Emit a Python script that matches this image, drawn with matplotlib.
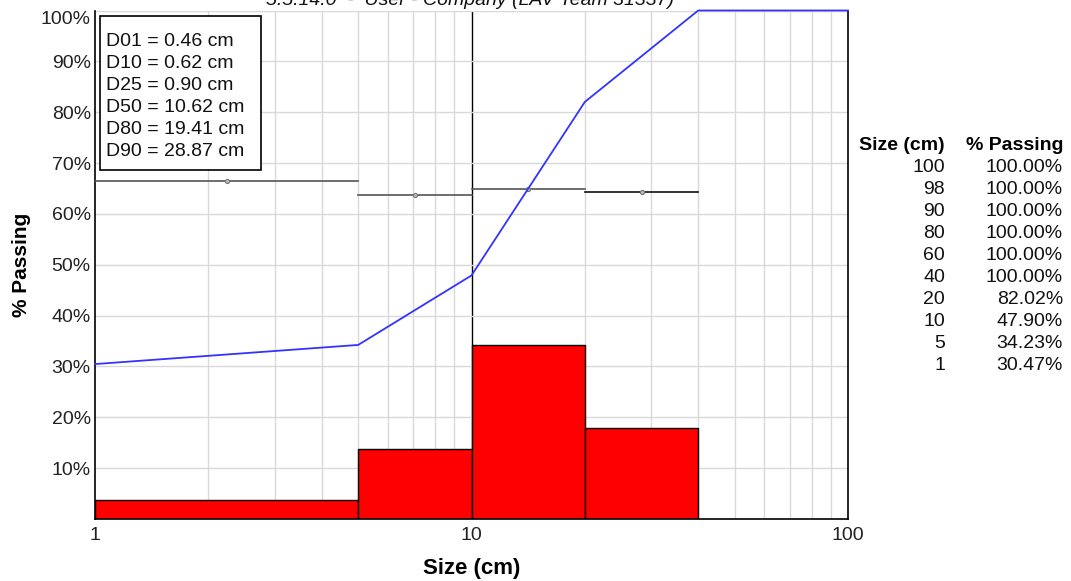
import matplotlib.pyplot as plt
from matplotlib.patches import Rectangle
from matplotlib.ticker import FixedLocator, NullFormatter, FuncFormatter

plt.rcParams["font.family"] = ["Liberation Sans", "DejaVu Sans"]

# cumulative passing curve
sizes = [1, 5, 10, 20, 40, 60, 80, 90, 98, 100]
passing = [30.47, 34.23, 47.90, 82.02, 100.0, 100.0, 100.0, 100.0, 100.0, 100.0]

# retained fraction per size class
bin_edges = [1, 5, 10, 20, 40]
retained = [3.76, 13.67, 34.12, 17.98]

# per-class level lines with midpoint markers
class_levels = [66.5, 63.8, 64.9, 64.4]
class_colors = ["#555555", "#555555", "#555555", "#111111"]

stats_labels = ["D01", "D10", "D25", "D50", "D80", "D90"]
stats_values = [0.46, 0.62, 0.90, 10.62, 19.41, 28.87]

table_sizes = ["100", "98", "90", "80", "60", "40", "20", "10", "5", "1"]
table_passing = ["100.00%", "100.00%", "100.00%", "100.00%", "100.00%",
                 "100.00%", "82.02%", "47.90%", "34.23%", "30.47%"]

W, H = 1071, 581
fig = plt.figure(figsize=(W / 100, H / 100), dpi=100)
ax = fig.add_axes([95 / W, 62 / H, 753 / W, 508.5 / H])

ax.set_xscale("log")
ax.set_xlim(1, 100)
ax.set_ylim(0, 100)

# grid: light minor lines, black decade line
minor = [m * d for d in (1, 10) for m in range(2, 10)]
for x in minor:
    ax.axvline(x, color="#d9d9d9", lw=1, zorder=0)
ax.axvline(10, color="black", lw=1, zorder=0)
for y in range(10, 101, 10):
    ax.axhline(y, color="#d9d9d9", lw=1, zorder=0)

for i, h in enumerate(retained):
    ax.bar(bin_edges[i], h, width=bin_edges[i + 1] - bin_edges[i], align="edge",
           color="#ff0000", edgecolor="black", lw=1, zorder=2)

for i, lvl in enumerate(class_levels):
    lo, hi = bin_edges[i], bin_edges[i + 1]
    ax.plot([lo, hi], [lvl, lvl], color=class_colors[i], lw=1.2, zorder=3)
    ax.plot((lo * hi) ** 0.5, lvl, "o", ms=3, mfc="#bbbbbb", mec="#777777",
            mew=0.8, zorder=4)

ax.plot(sizes, passing, color="#3333ff", lw=1.3, zorder=5, clip_on=False)

ax.xaxis.set_major_locator(FixedLocator([1, 10, 100]))
ax.xaxis.set_major_formatter(FuncFormatter(lambda v, p: f"{v:g}"))
ax.xaxis.set_minor_formatter(NullFormatter())
ax.yaxis.set_major_locator(FixedLocator(range(10, 101, 10)))
ax.yaxis.set_major_formatter(FuncFormatter(lambda v, p: f"{v:.0f}%"))
ax.tick_params(which="both", length=0, labelsize=14, colors="#222222")
ax.tick_params(axis="y", pad=3)
ax.tick_params(axis="x", pad=6)
# keep the 100% label inside the figure
ax.yaxis.get_major_ticks()[-1].label1.set_verticalalignment("top")

for side in ("left", "bottom", "right"):
    ax.spines[side].set_color("black")
    ax.spines[side].set_linewidth(1.2)
ax.spines["top"].set_visible(False)

ax.set_xlabel("Size (cm)", fontsize=16, fontweight="bold", labelpad=10)
ax.set_ylabel("% Passing", fontsize=15, fontweight="bold", labelpad=7)

# statistics box, in pixel-based figure coordinates
fig.add_artist(Rectangle((100 / W, 1 - 170 / H), 161 / W, 154 / H,
                         transform=fig.transFigure, fc="white", ec="black",
                         lw=1.2, zorder=6))
for i, (k, v) in enumerate(zip(stats_labels, stats_values)):
    fig.text(106 / W, 1 - (41 + 22.2 * i) / H, f"{k} = {v:.2f} cm",
             ha="left", va="center", fontsize=14, color="#111111", zorder=7)

fig.text(470 / W, 1 - 5 / H, "5.5.14.0  -  User - Company (LAV Team 31337)",
         ha="center", va="baseline", fontsize=14, style="italic", color="#111111")

# summary table on the right
x_size, x_pass = 945 / W, 1063 / W
fig.text(x_size, 1 - 145 / H, "Size (cm)", ha="right", va="center",
         fontsize=14, fontweight="bold")
fig.text(x_pass, 1 - 145 / H, "% Passing", ha="right", va="center",
         fontsize=14, fontweight="bold")
for i, (s, p) in enumerate(zip(table_sizes, table_passing)):
    y = 1 - (168 + 21.9 * i) / H
    fig.text(x_size, y, s, ha="right", va="center", fontsize=14, color="#111111")
    fig.text(x_pass, y, p, ha="right", va="center", fontsize=14, color="#111111")

fig.savefig("out.png", dpi=100)
